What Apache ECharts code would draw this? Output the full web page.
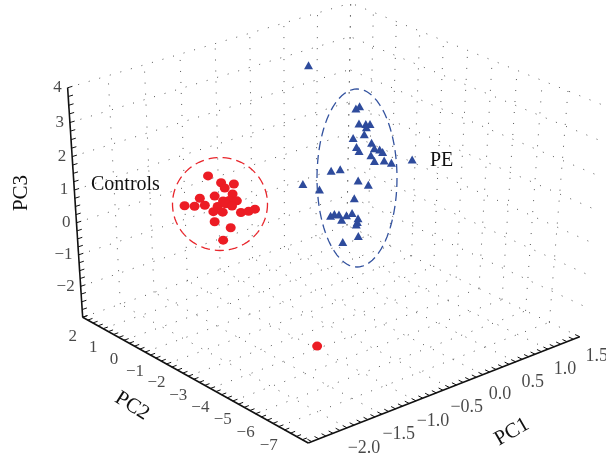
<!DOCTYPE html>
<html>
<head>
<meta charset="utf-8">
<script src="https://cdn.jsdelivr.net/npm/echarts@6/dist/echarts.min.js"></script>
<style>
  html, body { margin: 0; padding: 0; background: #fff; }
  #chart { width: 606px; height: 456px; }
</style>
</head>
<body>
<div id="chart"></div>
<script>
// limits of the 3D box
const pc1Range = [-2.55, 1.5];
const pc2Range = [-8.25, 2];
const pc3Range = [-3, 4];

// labelled ticks
const pc1Ticks = [-2.0, -1.5, -1.0, -0.5, 0.0, 0.5, 1.0, 1.5];
const pc2Ticks = [-7, -6, -5, -4, -3, -2, -1, 0, 1, 2];
const pc3Ticks = [-2, -1, 0, 1, 2, 3, 4];

// scores [PC1, PC2, PC3]
const controls = [
  [-1.02, 0.80, 0.76], [-0.99, 0.30, 0.69], [-0.71, 0.60, 0.36], [-0.97, 0.20, 0.55],
  [-0.70, 0.70, 0.01], [-0.90, 0.90, 0.02], [-1.27, 0.40, 0.38], [-0.81, 0.80, -0.16],
  [-0.94, 0.10, 0.18], [-0.67, 0.60, -0.19], [-1.40, 0.70, 0.14], [-1.41, 0.20, 0.30],
  [-1.17, 0.50, 0.06], [-0.86, 0.90, -0.33], [-0.93, 0.30, 0.00], [-0.68, 0.80, -0.41],
  [-1.08, 0.40, -0.17], [-0.85, 0.70, -0.45], [-0.74, 0.20, -0.37], [-0.50, 0.60, -0.64],
  [-0.50, 0.30, -0.47], [-0.94, 0.80, -0.72], [-0.80, 0.50, -0.91], [-1.04, 0.10, -0.99],
  [-2.35, -8.00, -0.30]
];
const pe = [
  [0.03, -0.50, 3.76], [0.90, -0.20, 1.91], [0.67, -0.70, 2.14], [0.93, -0.10, 1.34],
  [0.86, -0.60, 1.52], [1.03, -0.30, 1.32], [0.80, -0.80, 1.52], [0.91, -0.40, 1.11],
  [0.81, -0.20, 1.00], [0.92, -0.70, 0.94], [0.76, -0.50, 0.85], [0.94, -0.10, 0.48],
  [0.93, -0.80, 0.79], [1.19, -0.30, 0.42], [1.02, -0.40, 0.39], [1.13, -0.60, 0.48],
  [1.30, -0.20, -0.03], [0.90, -0.90, 0.45], [1.38, -0.30, -0.12], [1.49, -0.90, 0.10],
  [0.31, -0.70, 0.49], [0.62, -0.20, 0.16], [0.83, -0.40, -0.27], [0.85, -0.80, -0.29],
  [0.02, -0.30, 0.15], [0.17, -0.60, -0.03], [0.88, -0.10, -0.97], [0.31, -0.70, -0.92],
  [0.47, -0.40, -1.08], [0.61, -0.20, -1.26], [0.52, -0.80, -1.02], [0.78, -0.30, -1.30],
  [0.55, -0.50, -1.29], [0.77, -0.60, -1.36], [0.90, -0.20, -1.71], [0.71, -0.70, -1.49],
  [0.85, -0.40, -2.06], [0.71, -0.10, -2.26]
];

// where box corners land on the page (unit cube -> px), used to fit the camera
const cornerAnchors = [
  [[0, 0, 0], [307.5, 443]],
  [[1, 0, 0], [580, 336]],
  [[0, 1, 0], [83, 318]],
  [[0, 1, 1], [68, 87]],
  [[1, 1, 1], [350, 3]],
  [[1, 0, 1], [601, 105]]
];

// perspective camera by DLT (least squares, p12 = 1)
function fitCamera(pairs) {
  const M = Array.from({ length: 11 }, () => new Array(11).fill(0));
  const b = new Array(11).fill(0);
  pairs.forEach(([n, s]) => {
    const [X, Y, Z] = n;
    const u = s[0] / 100, v = s[1] / 100;
    const rows = [
      [[X, Y, Z, 1, 0, 0, 0, 0, -u * X, -u * Y, -u * Z], u],
      [[0, 0, 0, 0, X, Y, Z, 1, -v * X, -v * Y, -v * Z], v]
    ];
    rows.forEach(([r, t]) => {
      for (let i = 0; i < 11; i++) {
        b[i] += r[i] * t;
        for (let j = 0; j < 11; j++) M[i][j] += r[i] * r[j];
      }
    });
  });
  for (let c = 0; c < 11; c++) {
    let p = c;
    for (let r = c + 1; r < 11; r++) if (Math.abs(M[r][c]) > Math.abs(M[p][c])) p = r;
    [M[c], M[p]] = [M[p], M[c]];
    [b[c], b[p]] = [b[p], b[c]];
    for (let r = 0; r < 11; r++) {
      if (r === c) continue;
      const f = M[r][c] / M[c][c];
      for (let j = c; j < 11; j++) M[r][j] -= f * M[c][j];
      b[r] -= f * b[c];
    }
  }
  return b.map((v, i) => v / M[i][i]);
}
const P = fitCamera(cornerAnchors);

function project(p) {
  const n = [
    (p[0] - pc1Range[0]) / (pc1Range[1] - pc1Range[0]),
    (p[1] - pc2Range[0]) / (pc2Range[1] - pc2Range[0]),
    (p[2] - pc3Range[0]) / (pc3Range[1] - pc3Range[0])
  ];
  const w = P[8] * n[0] + P[9] * n[1] + P[10] * n[2] + 1;
  return [
    100 * (P[0] * n[0] + P[1] * n[1] + P[2] * n[2] + P[3]) / w,
    100 * (P[4] * n[0] + P[5] * n[1] + P[6] * n[2] + P[7]) / w
  ];
}

const [x0, x1] = pc1Range, [y0, y1] = pc2Range, [z0, z1] = pc3Range;
const seg = (a, b) => ({ coords: [project(a), project(b)] });

// dotted grid on floor and the two back walls
const gridSegs = [];
pc1Ticks.forEach(x => {
  gridSegs.push(seg([x, y0, z0], [x, y1, z0]));
  gridSegs.push(seg([x, y1, z0], [x, y1, z1]));
});
pc2Ticks.forEach(y => {
  gridSegs.push(seg([x0, y, z0], [x1, y, z0]));
  gridSegs.push(seg([x1, y, z0], [x1, y, z1]));
});
pc3Ticks.forEach(z => {
  gridSegs.push(seg([x0, y1, z], [x1, y1, z]));
  gridSegs.push(seg([x1, y0, z], [x1, y1, z]));
});

// solid axis lines
const axisSegs = [
  seg([x0, y1, z0], [x0, y0, z0]),
  seg([x0, y0, z0], [x1, y0, z0]),
  seg([x0, y1, z0], [x0, y1, z1])
];

// minor ticks, drawn as short screen-space strokes
function tickSeg(p, dir, len) {
  const a = project(p);
  const b = project([p[0] + dir[0], p[1] + dir[1], p[2] + dir[2]]);
  const dx = b[0] - a[0], dy = b[1] - a[1], d = Math.hypot(dx, dy);
  return { coords: [a, [a[0] + dx / d * len, a[1] + dy / d * len]] };
}
const tickSegs = [];
for (let x = -2.5; x <= x1 + 1e-9; x += 0.1) tickSegs.push(tickSeg([x, y0, z0], [0, 1, 0], 5));
for (let y = -8; y <= y1 + 1e-9; y += 0.25) tickSegs.push(tickSeg([x0, y, z0], [1, 0, 0], 5));
for (let z = -3; z <= z1 + 1e-9; z += 0.25) tickSegs.push(tickSeg([x0, y1, z], [1, 0, 0], 5));

const fmt = v => String(v).replace('-', '\u2212');
const pc1Labels = pc1Ticks.map(v => {
  const p = project([v, y0, z0]);
  return { name: v.toFixed(1).replace('-', '\u2212'), value: [p[0] + 17, p[1] + 20] };
});
const pc2Labels = pc2Ticks.map(v => {
  const p = project([x0, v, z0]);
  return { name: fmt(v), value: [p[0] - 10, p[1] + 19] };
});
const pc3Labels = pc3Ticks.map(v => {
  const p = project([x0, y1, v]);
  return { name: fmt(v), value: [p[0] - 6, p[1]] };
});

function ellipse(cx, cy, rx, ry) {
  const pts = [];
  for (let i = 0; i < 96; i++) {
    const a = i / 96 * Math.PI * 2;
    pts.push([cx + rx * Math.cos(a), cy + ry * Math.sin(a)]);
  }
  return pts;
}

const serif = '"Liberation Serif", "DejaVu Serif", serif';
const labelSeries = (data, size, pos) => ({
  type: 'scatter',
  symbolSize: 0,
  silent: true,
  data: data,
  z: 5,
  label: {
    show: true,
    position: pos,
    distance: 0,
    formatter: '{b}',
    color: '#1a1a1a',
    fontFamily: serif,
    fontSize: size
  }
});

const chart = echarts.init(document.getElementById('chart'));
chart.setOption({
  animation: false,
  backgroundColor: '#fff',
  grid: { left: 0, right: 0, top: 0, bottom: 0 },
  xAxis: { type: 'value', min: 0, max: 606, show: false },
  yAxis: { type: 'value', min: 0, max: 456, inverse: true, show: false },
  series: [
    {
      type: 'lines',
      coordinateSystem: 'cartesian2d',
      silent: true,
      data: gridSegs,
      lineStyle: { color: '#3a3a3a', width: 1, type: [1, 10], opacity: 0.85 },
      z: 1
    },
    {
      type: 'lines',
      coordinateSystem: 'cartesian2d',
      silent: true,
      data: axisSegs,
      lineStyle: { color: '#111', width: 1.6, type: 'solid', opacity: 1 },
      z: 3
    },
    {
      type: 'lines',
      coordinateSystem: 'cartesian2d',
      silent: true,
      data: tickSegs,
      lineStyle: { color: '#111', width: 1, type: 'solid', opacity: 1 },
      z: 3
    },
    labelSeries(pc1Labels, 18, 'inside'),
    labelSeries(pc2Labels, 17, 'inside'),
    labelSeries(pc3Labels, 17, 'left'),
    {
      name: 'Controls',
      type: 'scatter',
      symbol: 'circle',
      symbolSize: [10, 9],
      itemStyle: { color: '#ec1c24', opacity: 1 },
      data: controls.map(project),
      z: 4
    },
    {
      name: 'PE',
      type: 'scatter',
      symbol: 'triangle',
      symbolSize: [9, 8],
      itemStyle: { color: '#2e4b9c', opacity: 1 },
      data: pe.map(project),
      z: 4
    }
  ],
  graphic: [
    {
      type: 'polygon',
      shape: { points: ellipse(220, 204, 47.5, 46.5) },
      style: { fill: 'none', stroke: '#e8262c', lineWidth: 1.3, lineDash: [9, 5] },
      z: 10
    },
    {
      type: 'polygon',
      shape: { points: ellipse(357, 178, 40, 89) },
      style: { fill: 'none', stroke: '#34539f', lineWidth: 1.3, lineDash: [9, 5] },
      z: 10
    },
    {
      type: 'text', x: 91, y: 185, z: 10,
      style: { text: 'Controls', fill: '#111', font: '20px ' + serif, align: 'left', verticalAlign: 'middle' }
    },
    {
      type: 'text', x: 430, y: 161, z: 10,
      style: { text: 'PE', fill: '#111', font: '20px ' + serif, align: 'left', verticalAlign: 'middle' }
    },
    {
      type: 'text', x: 21, y: 193, rotation: Math.PI / 2, z: 10,
      style: { text: 'PC3', fill: '#111', font: '21px ' + serif, align: 'center', verticalAlign: 'middle' }
    },
    {
      type: 'text', x: 132, y: 406, rotation: -32 * Math.PI / 180, z: 10,
      style: { text: 'PC2', fill: '#111', font: '21px ' + serif, align: 'center', verticalAlign: 'middle' }
    },
    {
      type: 'text', x: 512, y: 432, rotation: 30 * Math.PI / 180, z: 10,
      style: { text: 'PC1', fill: '#111', font: '21px ' + serif, align: 'center', verticalAlign: 'middle' }
    }
  ]
});
</script>
</body>
</html>
